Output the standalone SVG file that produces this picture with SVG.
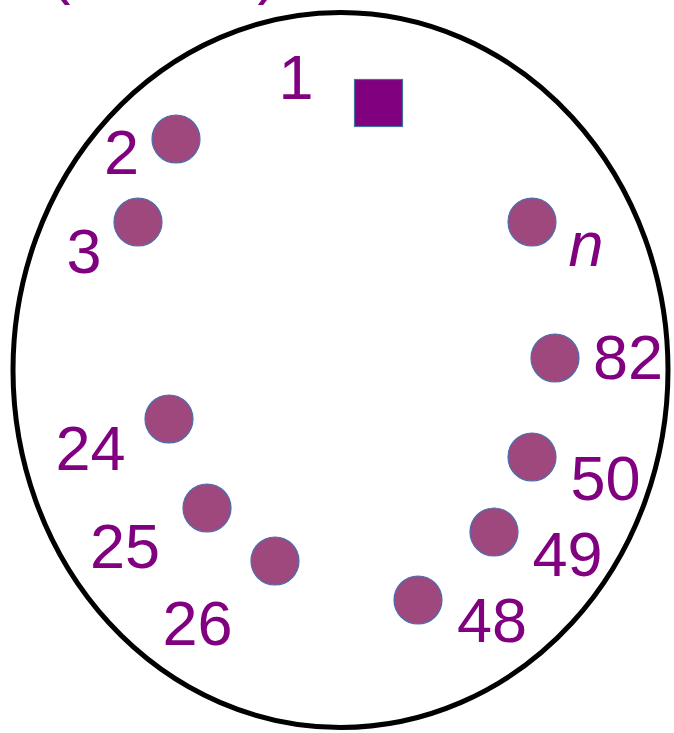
<svg xmlns="http://www.w3.org/2000/svg" width="674" height="733" viewBox="0 0 674 733">
<style>
.lbl{font-family:"Liberation Sans",Arial,sans-serif;font-size:63px;fill:#800080;text-anchor:middle}
.dot{fill:#9e487e;stroke:#4a6fae;stroke-width:1.2}
</style>
<rect width="674" height="733" fill="#ffffff"/>
<text class="lbl" x="60" y="-8">(</text>
<text class="lbl" x="268" y="-8">)</text>
<ellipse id="boundary" cx="340.5" cy="370" rx="327.5" ry="357.5" fill="none" stroke="#000" stroke-width="5"/>
<g id="node-1"><rect x="354.5" y="79.5" width="48" height="47" fill="#800080" stroke="#41719c" stroke-width="1.2"/><text class="lbl" x="296" y="99">1</text></g>
<g id="node-2"><circle class="dot" cx="176" cy="139" r="24"/><text class="lbl" x="121.5" y="174">2</text></g>
<g id="node-3"><circle class="dot" cx="138" cy="222" r="24"/><text class="lbl" x="84" y="273">3</text></g>
<g id="node-n"><circle class="dot" cx="532" cy="222" r="24"/><text class="lbl" x="586" y="266" font-style="italic">n</text></g>
<g id="node-82"><circle class="dot" cx="555" cy="358" r="24"/><text class="lbl" x="628" y="379">82</text></g>
<g id="node-50"><circle class="dot" cx="532" cy="457" r="24"/><text class="lbl" x="605.5" y="500">50</text></g>
<g id="node-49"><circle class="dot" cx="494" cy="532" r="24"/><text class="lbl" x="567.5" y="576">49</text></g>
<g id="node-48"><circle class="dot" cx="418" cy="600" r="24"/><text class="lbl" x="492" y="642">48</text></g>
<g id="node-24"><circle class="dot" cx="169" cy="419" r="24"/><text class="lbl" x="90.5" y="470">24</text></g>
<g id="node-25"><circle class="dot" cx="207" cy="508" r="24"/><text class="lbl" x="125" y="568">25</text></g>
<g id="node-26"><circle class="dot" cx="275" cy="561" r="24"/><text class="lbl" x="197.5" y="645">26</text></g>
</svg>
